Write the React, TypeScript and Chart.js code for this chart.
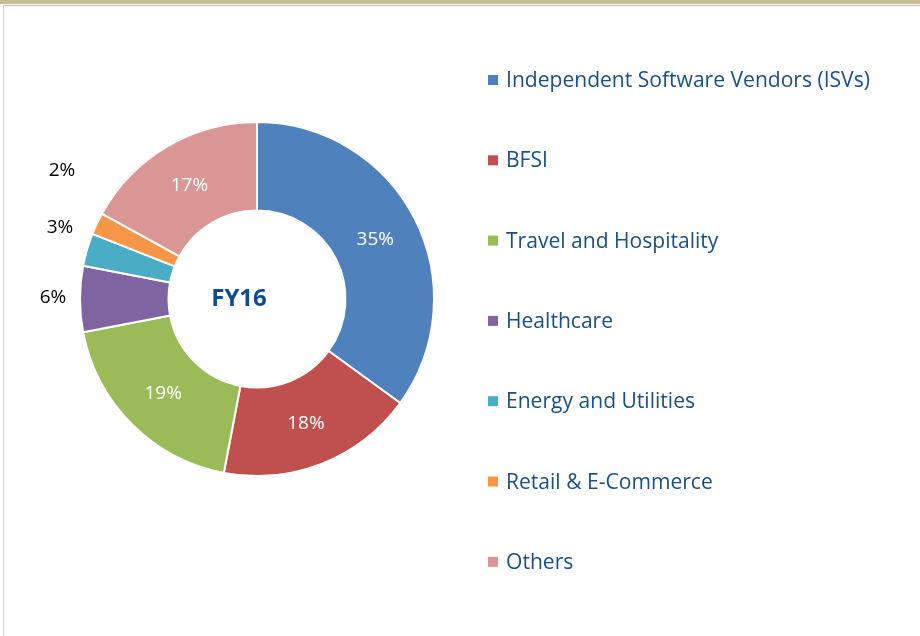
import React, { useEffect, useRef } from "react";
import { Chart, registerables } from "chart.js";

Chart.register(...registerables);

const categories = [
  "Independent Software Vendors (ISVs)",
  "BFSI",
  "Travel and Hospitality",
  "Healthcare",
  "Energy and Utilities",
  "Retail & E-Commerce",
  "Others",
];
const shares = [35, 18, 19, 6, 3, 2, 17];
const sliceColors = ["#4F81BD", "#C0504D", "#9BBB59", "#8064A2", "#4BACC6", "#F79646", "#D99694"];
const centerTitle = "FY16";
const outsideLabelPos: Array<[number, number] | null> = [null, null, null, [53, 298], [60, 228], [62, 171], null];

const FONT = "'Open Sans', Lato, sans-serif";
const TEXT_BLUE = "#1B4F86";

const overlayPlugin = {
  id: "overlay",
  afterDatasetsDraw(chart: any) {
    const ctx = chart.ctx;
    const meta = chart.getDatasetMeta(0);
    const ds = chart.data.datasets[0];
    ctx.save();
    // slice labels
    meta.data.forEach((arc: any, i: number) => {
      const txt = ds.data[i] + "%";
      ctx.font = `19px ${FONT}`;
      ctx.textAlign = "center";
      ctx.textBaseline = "middle";
      const op = outsideLabelPos[i];
      if (op) {
        ctx.fillStyle = "#000";
        ctx.fillText(txt, op[0], op[1]);
      } else {
        const p = arc.tooltipPosition();
        ctx.fillStyle = "#fff";
        ctx.fillText(txt, p.x, p.y + 1);
      }
    });
    // center
    const a0 = meta.data[0];
    ctx.font = `bold 24px ${FONT}`;
    ctx.fillStyle = "#0F4C8A";
    ctx.textAlign = "center";
    ctx.textBaseline = "middle";
    ctx.fillText(centerTitle, a0.x - 18, a0.y);
    // legend
    ctx.font = `20px ${FONT}`;
    const w0 = ctx.measureText(chart.data.labels[0]).width;
    const size = (20 * 364) / w0;
    const lx = 488;
    const ly0 = 80;
    const step = 80.3;
    chart.data.labels.forEach((lab: string, i: number) => {
      const y = ly0 + i * step;
      ctx.fillStyle = ds.backgroundColor[i];
      ctx.fillRect(lx, y - 5, 10, 10);
      ctx.fillStyle = TEXT_BLUE;
      ctx.font = `${size.toFixed(2)}px ${FONT}`;
      ctx.textAlign = "left";
      ctx.textBaseline = "middle";
      ctx.fillText(lab, lx + 18, y + 1);
    });
    ctx.restore();
  },
};

export default function App() {
  const ref = useRef<HTMLCanvasElement>(null);
  useEffect(() => {
    if (!ref.current) return;
    const chart = new Chart(ref.current, {
      type: "doughnut",
      data: {
        labels: categories,
        datasets: [
          {
            data: shares,
            backgroundColor: sliceColors,
            borderColor: "#ffffff",
            borderWidth: 2,
          },
        ],
      },
      options: {
        animation: false,
        responsive: false,
        cutout: "50%",
        layout: { padding: { left: 79, top: 121, right: 485, bottom: 159 } },
        plugins: { legend: { display: false }, tooltip: { enabled: false } },
      },
      plugins: [overlayPlugin],
    });
    return () => chart.destroy();
  }, []);
  return (
    <div style={{ position: "absolute", left: 0, top: 0, width: 920, height: 636, background: "#fff", overflow: "hidden" }}>
      <div style={{ position: "absolute", left: 0, top: 0, width: 920, height: 4, background: "#C8BC94" }} />
      <div style={{ position: "absolute", left: 3, top: 5, width: 917, height: 1, background: "#BDBDBD" }} />
      <div style={{ position: "absolute", left: 3, top: 5, width: 1, height: 631, background: "#D0D0D0" }} />
      <canvas ref={ref} width={920} height={636} style={{ position: "absolute", left: 0, top: 0 }} />
    </div>
  );
}
